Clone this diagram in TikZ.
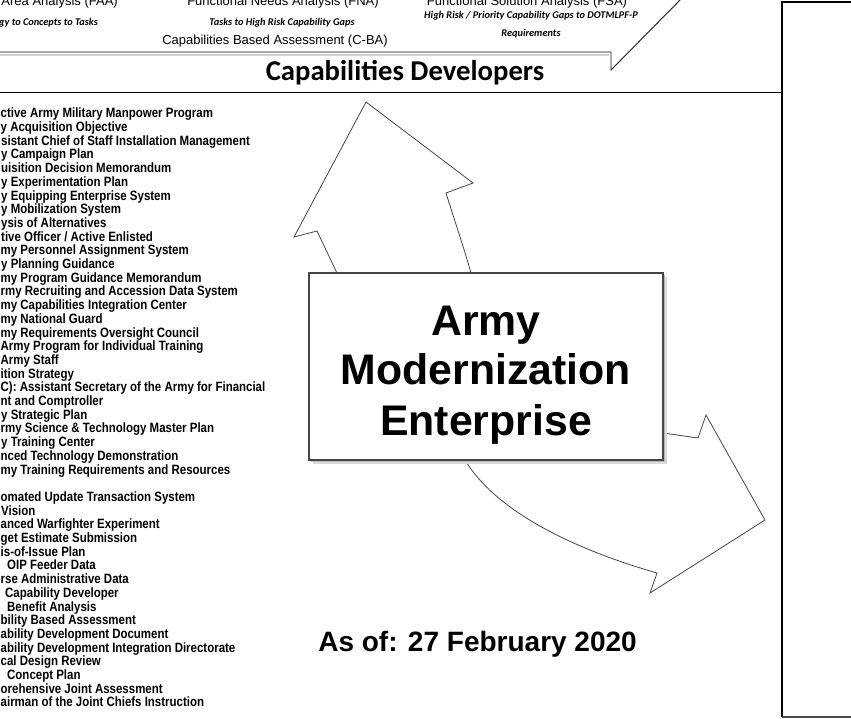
\documentclass[tikz,border=0pt]{standalone}
\usepackage{fontspec}
\setmainfont{Liberation Sans}
\newfontfamily\narrowfont[FakeStretch=0.85]{Liberation Sans}
\newfontfamily\calfont{Carlito}
\begin{document}
\begin{tikzpicture}[x=1pt,y=-1pt,
  listtext/.style={anchor=base west, inner sep=0pt, font=\narrowfont\bfseries\fontsize{13.5}{13.7}\selectfont},
  toptext/.style={anchor=base, inner sep=0pt, font=\fontsize{13}{15}\selectfont},
  itext/.style={anchor=base, inner sep=0pt, font=\calfont\bfseries\itshape\fontsize{10.3}{12}\selectfont},
  arrowshape/.style={draw=gray!55!black, fill=white, line width=0.8pt, line join=miter},
  boxtext/.style={anchor=base, inner sep=0pt, font=\bfseries\fontsize{42.8}{50}\selectfont},
  frameline/.style={line width=1.6pt, black}]
\useasboundingbox (0,0) rectangle (851,718);
\clip (0,0) rectangle (851,718);
\fill[white] (0,0) rectangle (851,718);

% top band texts
\node[toptext, anchor=base east] (faa) at (118,5) {al Area Analysis (FAA)};
\node[toptext] (fna) at (283,5) {Functional Needs Analysis (FNA)};
\node[toptext] (fsa) at (527,5) {Functional Solution Analysis (FSA)};
\node[itext, anchor=base east] (faasub) at (98,25.5) {gy to Concepts to Tasks};
\node[itext] (fnasub) at (282,25.5) {Tasks to High Risk Capability Gaps};
\node[itext] (fsasub1) at (531,18.5) {High Risk / Priority Capability Gaps to DOTMLPF-P};
\node[itext] (fsasub2) at (531,36.5) {Requirements};
\node[toptext] (cba) at (275,44.5) {Capabilities Based Assessment (C-BA)};

% callout outline
\draw[gray!35, line width=2.2pt] (0,54.8) -- (609,54.8);
\draw[gray!20!black, line width=0.9pt] (0,52) -- (611,52) -- (611,70) -- (684,-4);

% heading
\node[anchor=base, inner sep=0pt, font=\calfont\bfseries\fontsize{28.7}{32}\selectfont] (capdev) at (405,80) {Capabilities Developers};

% frames
\draw[frameline] (0,92.5) -- (782,92.5);
\draw[frameline] (851,2) -- (782,2) -- (782,717);
\draw[line width=1.2pt, gray!60!black] (782,717) -- (851,717);

% list
\foreach \k/\xo/\t in {
 1/0.5/{ctive Army Military Manpower Program},
 2/0.5/{y Acquisition Objective},
 3/1/{sistant Chief of Staff Installation Management},
 4/1/{y Campaign Plan},
 5/1/{uisition Decision Memorandum},
 6/1/{y Experimentation Plan},
 7/1/{y Equipping Enterprise System},
 8/1/{y Mobilization System},
 9/1/{ysis of Alternatives},
 10/1/{tive Officer / Active Enlisted},
 11/0.5/{my Personnel Assignment System},
 12/1/{y Planning Guidance},
 13/0.5/{my Program Guidance Memorandum},
 14/0.5/{rmy Recruiting and Accession Data System},
 15/0.5/{my Capabilities Integration Center},
 16/0.5/{my National Guard},
 17/0.5/{my Requirements Oversight Council},
 18/0.5/{Army Program for Individual Training},
 19/0.5/{Army Staff},
 20/0.5/{ition Strategy},
 21/0.5/{C): Assistant Secretary of the Army for Financial},
 22/0.5/{nt and Comptroller},
 23/1/{y Strategic Plan},
 24/0.5/{rmy Science \& Technology Master Plan},
 25/1/{y Training Center},
 26/0.5/{nced Technology Demonstration},
 27/0.5/{my Training Requirements and Resources},
 29/0.5/{omated Update Transaction System},
 30/1/{Vision},
 31/0.5/{anced Warfighter Experiment},
 32/0.5/{get Estimate Submission},
 33/0.5/{is-of-Issue Plan},
 34/7/{OIP Feeder Data},
 35/0.5/{rse Administrative Data},
 36/5/{Capability Developer},
 37/7/{Benefit Analysis},
 38/0.5/{bility Based Assessment},
 39/0.5/{ability Development Document},
 40/0.5/{ability Development Integration Directorate},
 41/0.5/{cal Design Review},
 42/7/{Concept Plan},
 43/0.5/{orehensive Joint Assessment},
 44/0.5/{airman of the Joint Chiefs Instruction}}
 {\node[listtext] (L\k) at (\xo, 117.8+13.7*\k-13.7) {\t};}

% curved block arrows (partly hidden behind the central box)
\draw[arrowshape] (346,292) -- (317,231) -- (294,237) -- (366,102) -- (473,183) -- (446,193)
  .. controls (455,222) and (464,248) .. (471,273) -- (477,292) -- cycle;
\draw[arrowshape] (628,428) -- (698,438) -- (706,415) -- (765,520) -- (650,593) -- (657,573)
  .. controls (570,548) and (495,510) .. (465,460) -- (465,430) -- cycle;

% central box
\fill[gray!30] (312.5,276.5) rectangle (666.5,463.5);
\fill[gray!55] (311,275) rectangle (665,462);
\node[draw=gray!55!black, fill=white, line width=1.2pt, minimum width=354pt, minimum height=187pt, inner sep=0pt] (ame) at (486,366.5) {};
\node[boxtext] (amea) at (486,335) {Army};
\node[boxtext] (ameb) at (486,384) {Modernization};
\node[boxtext] (amec) at (486,435) {Enterprise};

% date
\node[anchor=base east, inner sep=0pt, font=\bfseries\fontsize{28}{30}\selectfont] (asof) at (637,651.5) {As of: 27 February 2020};
\end{tikzpicture}
\end{document}
